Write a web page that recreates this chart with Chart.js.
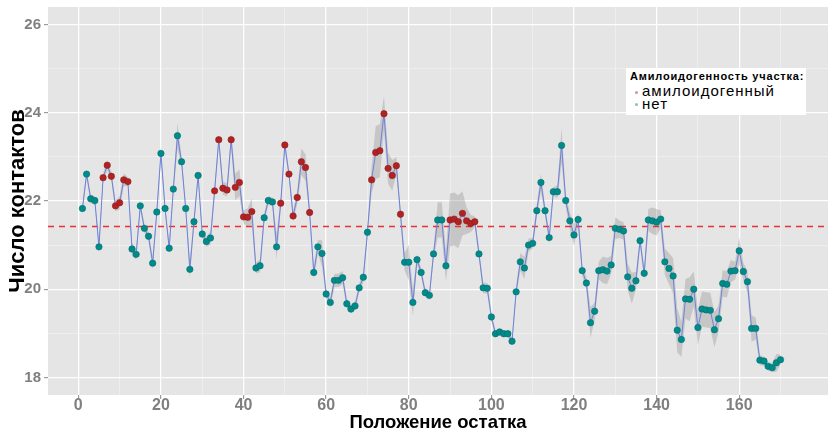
<!DOCTYPE html>
<html>
<head>
<meta charset="utf-8">
<script src="https://cdn.jsdelivr.net/npm/chart.js@4.4.1/dist/chart.umd.min.js"></script>
<style>
  html, body { margin: 0; padding: 0; background: #fff; }
  #wrap { position: relative; width: 828px; height: 430px; font-family: "Liberation Sans", Arial, sans-serif; }
  #legend { position: absolute; left: 626px; top: 68px; width: 180px; height: 47px; background: #fff; }
  #legend .ttl { position: absolute; left: 4px; top: 2px; font-size: 11px; letter-spacing: 0.8px; font-weight: bold; color: #000; white-space: nowrap; }
  #legend .item { position: absolute; left: 16px; font-size: 15px; letter-spacing: 1px; color: #000; white-space: nowrap; line-height: 15px; }
  #legend .dot { position: absolute; left: 9px; width: 3px; height: 3px; border-radius: 50%; }
</style>
</head>
<body>
<div id="wrap">
  <canvas id="chart" width="828" height="430"></canvas>
  <div id="legend">
    <div class="ttl">Амилоидогенность участка:</div>
    <div class="dot" style="top:23px;background:rgba(178,34,34,0.5)"></div>
    <div class="item" style="top:15px">амилоидогенный</div>
    <div class="dot" style="top:35px;background:rgba(0,139,139,0.5)"></div>
    <div class="item" style="top:28px">нет</div>
  </div>
</div>
<script>
// число контактов для каждого остатка (1..170)
const contacts = [
  21.83, 22.61, 22.05, 22.01, 20.96, 22.53, 22.81, 22.56, 21.89, 21.96,
  22.48, 22.44, 20.91, 20.79, 21.89, 21.38, 21.20, 20.59, 21.75, 23.08,
  21.83, 20.93, 22.27, 23.48, 22.89, 21.83, 20.45, 21.53, 22.58, 21.25,
  21.08, 21.16, 22.23, 23.39, 22.29, 22.25, 23.39, 22.31, 22.42, 21.64,
  21.63, 21.76, 20.48, 20.53, 21.62, 22.01, 21.98, 20.96, 21.95, 23.27,
  22.61, 21.66, 22.08, 22.89, 22.76, 21.74, 20.38, 20.96, 20.81, 19.89,
  19.70, 20.20, 20.20, 20.26, 19.67, 19.55, 19.62, 20.03, 20.27, 21.29,
  22.48, 23.10, 23.14, 23.98, 22.74, 22.58, 22.80, 21.70, 20.61, 20.61,
  19.70, 20.67, 20.38, 19.92, 19.86, 20.80, 21.57, 21.57, 20.53, 21.57,
  21.59, 21.53, 21.72, 21.55, 21.49, 21.53, 20.80, 20.03, 20.02, 19.37,
  18.99, 19.03, 18.99, 18.99, 18.82, 19.94, 20.62, 20.48, 21.00, 21.04,
  21.78, 22.42, 21.78, 21.17, 22.21, 22.21, 23.26, 22.01, 21.55, 21.23,
  21.58, 20.42, 20.14, 19.24, 19.50, 20.42, 20.44, 20.41, 20.55, 21.38,
  21.36, 21.32, 20.28, 20.02, 20.19, 21.10, 20.36, 21.57, 21.55, 21.52,
  21.59, 20.62, 20.47, 20.30, 19.07, 18.86, 19.78, 19.77, 20.00, 19.13,
  19.55, 19.53, 19.52, 19.08, 19.33, 20.13, 20.11, 20.41, 20.42, 20.87,
  20.40, 20.17, 19.11, 19.11, 18.39, 18.37, 18.25, 18.22, 18.33, 18.40
];

// полуширина доверительной полосы
const spread = [
  0.08, 0.10, 0.10, 0.10, 0.12, 0.10, 0.12, 0.10, 0.12, 0.15,
  0.15, 0.10, 0.15, 0.12, 0.10, 0.10, 0.10, 0.15, 0.10, 0.12,
  0.10, 0.12, 0.10, 0.30, 0.12, 0.10, 0.20, 0.10, 0.10, 0.10,
  0.12, 0.15, 0.12, 0.12, 0.15, 0.15, 0.15, 0.30, 0.30, 0.15,
  0.20, 0.30, 0.12, 0.15, 0.10, 0.10, 0.10, 0.30, 0.12, 0.12,
  0.10, 0.12, 0.15, 0.30, 0.30, 0.12, 0.15, 0.15, 0.30, 0.10,
  0.12, 0.15, 0.15, 0.15, 0.10, 0.10, 0.10, 0.10, 0.12, 0.12,
  0.30, 0.60, 0.60, 0.40, 0.35, 0.35, 0.20, 0.12, 0.20, 0.40,
  0.30, 0.12, 0.10, 0.10, 0.10, 0.12, 0.40, 0.40, 0.35, 0.60,
  0.60, 0.60, 0.50, 0.30, 0.20, 0.12, 0.12, 0.12, 0.12, 0.10,
  0.08, 0.08, 0.08, 0.08, 0.08, 0.12, 0.20, 0.25, 0.15, 0.12,
  0.15, 0.20, 0.12, 0.12, 0.10, 0.15, 0.40, 0.15, 0.20, 0.25,
  0.15, 0.12, 0.15, 0.35, 0.20, 0.20, 0.30, 0.30, 0.20, 0.25,
  0.20, 0.20, 0.30, 0.35, 0.20, 0.12, 0.15, 0.25, 0.30, 0.30,
  0.20, 0.30, 0.35, 0.40, 0.50, 0.40, 0.45, 0.50, 0.40, 0.40,
  0.40, 0.40, 0.40, 0.40, 0.30, 0.30, 0.30, 0.25, 0.20, 0.30,
  0.20, 0.25, 0.30, 0.25, 0.12, 0.10, 0.10, 0.10, 0.20, 0.12
];

// амилоидогенные участки (начало, конец)
const amyloidRegions = [[6, 12], [33, 42], [49, 56], [71, 78], [90, 96]];

const threshold = 21.42;

const xTickLabels = [0, 20, 40, 60, 80, 100, 120, 140, 160];
const xMinorGrid = [10, 30, 50, 70, 90, 110, 130, 150, 170];
const yTickLabels = [18, 20, 22, 24, 26];
const yMinorGrid = [19, 21, 23, 25];

const xMin = -7.34, xMax = 181.5;
const yMin = 17.6, yMax = 26.4;

const positions = contacts.map((_, i) => i + 1);
const isAmyloid = positions.map(p => amyloidRegions.some(r => p >= r[0] && p <= r[1]));

const mainPoints = positions.map((p, i) => ({ x: p, y: contacts[i] }));
const upperBand = positions.map((p, i) => ({ x: p, y: contacts[i] + spread[i] }));
const lowerBand = positions.map((p, i) => ({ x: p, y: contacts[i] - spread[i] }));

const panelBg = {
    id: "panelBg",
    beforeDraw(chart) {
        const a = chart.chartArea;
        const ctx = chart.ctx;
        ctx.save();
        ctx.fillStyle = "#e5e5e5";
        ctx.fillRect(a.left, a.top, a.right - a.left, a.bottom - a.top);
        ctx.restore();
    }
};

function gridColor(majors) {
    return c => (c.tick && majors.includes(c.tick.value)) ? "rgba(255,255,255,0.95)" : "rgba(255,255,255,0.5)";
}
function gridWidth(majors) {
    return c => (c.tick && majors.includes(c.tick.value)) ? 1.3 : 0.7;
}
function tickColor(majors) {
    return c => (c.tick && majors.includes(c.tick.value)) ? "#8a8a8a" : "rgba(0,0,0,0)";
}

new Chart(document.getElementById("chart").getContext("2d"), {
    type: "line",
    data: {
        datasets: [
            {
                label: "contacts",
                data: mainPoints,
                borderColor: "#6d82dc",
                borderWidth: 1,
                tension: 0,
                pointRadius: 3.2,
                pointBorderWidth: 0.6,
                pointBackgroundColor: isAmyloid.map(a => a ? "#b22222" : "#008b8b"),
                pointBorderColor: isAmyloid.map(a => a ? "#8e1b1b" : "#006f6f"),
                fill: false,
                order: 0
            },
            {
                label: "threshold",
                data: [{ x: xMin, y: threshold }, { x: xMax, y: threshold }],
                borderColor: "rgba(235,30,30,0.9)",
                borderWidth: 1.5,
                borderDash: [6, 5],
                pointRadius: 0,
                fill: false,
                order: 1
            },
            {
                label: "upper",
                data: upperBand,
                borderWidth: 0,
                borderColor: "rgba(0,0,0,0)",
                pointRadius: 0,
                fill: false,
                tension: 0,
                order: 2
            },
            {
                label: "lower",
                data: lowerBand,
                borderWidth: 0,
                borderColor: "rgba(0,0,0,0)",
                backgroundColor: "rgba(140,140,140,0.35)",
                pointRadius: 0,
                fill: "-1",
                tension: 0,
                order: 3
            }
        ]
    },
    options: {
        responsive: false,
        animation: false,
        layout: { autoPadding: false, padding: { top: 7, right: 0, left: 0, bottom: 0 } },
        plugins: {
            legend: { display: false },
            tooltip: { enabled: false }
        },
        scales: {
            x: {
                type: "linear",
                min: xMin,
                max: xMax,
                afterFit: s => { s.height = 35; s.paddingLeft = 0; s.paddingRight = 0; },
                afterBuildTicks: s => {
                    s.ticks = xTickLabels.concat(xMinorGrid).sort((a, b) => a - b).map(v => ({ value: v }));
                },
                border: { display: false },
                grid: {
                    color: gridColor(xTickLabels),
                    lineWidth: gridWidth(xTickLabels),
                    tickColor: tickColor(xTickLabels),
                    tickLength: 4,
                    tickWidth: 1
                },
                ticks: {
                    autoSkip: false,
                    maxRotation: 0,
                    padding: -3,
                    color: "#7f7f7f",
                    font: { family: "Liberation Sans", size: 16, weight: "bold" },
                    callback: v => xTickLabels.includes(v) ? String(v) : ""
                },
                title: {
                    display: true,
                    text: "Положение остатка",
                    color: "#000",
                    font: { family: "Liberation Sans", size: 18.5, weight: "bold", lineHeight: 0.76 },
                    padding: { top: 0, bottom: 0 }
                }
            },
            y: {
                type: "linear",
                min: yMin,
                max: yMax,
                afterFit: s => { s.width = 48; s.paddingTop = 0; s.paddingBottom = 0; },
                afterBuildTicks: s => {
                    s.ticks = yTickLabels.concat(yMinorGrid).sort((a, b) => a - b).map(v => ({ value: v }));
                },
                border: { display: false },
                grid: {
                    color: gridColor(yTickLabels),
                    lineWidth: gridWidth(yTickLabels),
                    tickColor: tickColor(yTickLabels),
                    tickLength: 4,
                    tickWidth: 1
                },
                ticks: {
                    autoSkip: false,
                    padding: 3,
                    color: "#7f7f7f",
                    font: { family: "Liberation Sans", size: 15, weight: "bold" },
                    callback: v => yTickLabels.includes(v) ? String(v) : ""
                },
                title: {
                    display: true,
                    text: "Число контактов",
                    color: "#000",
                    font: { family: "Liberation Sans", size: 22, weight: "bold", lineHeight: 1 },
                    padding: { top: 6.5, bottom: 0 }
                }
            }
        }
    },
    plugins: [panelBg]
});
</script>
</body>
</html>
